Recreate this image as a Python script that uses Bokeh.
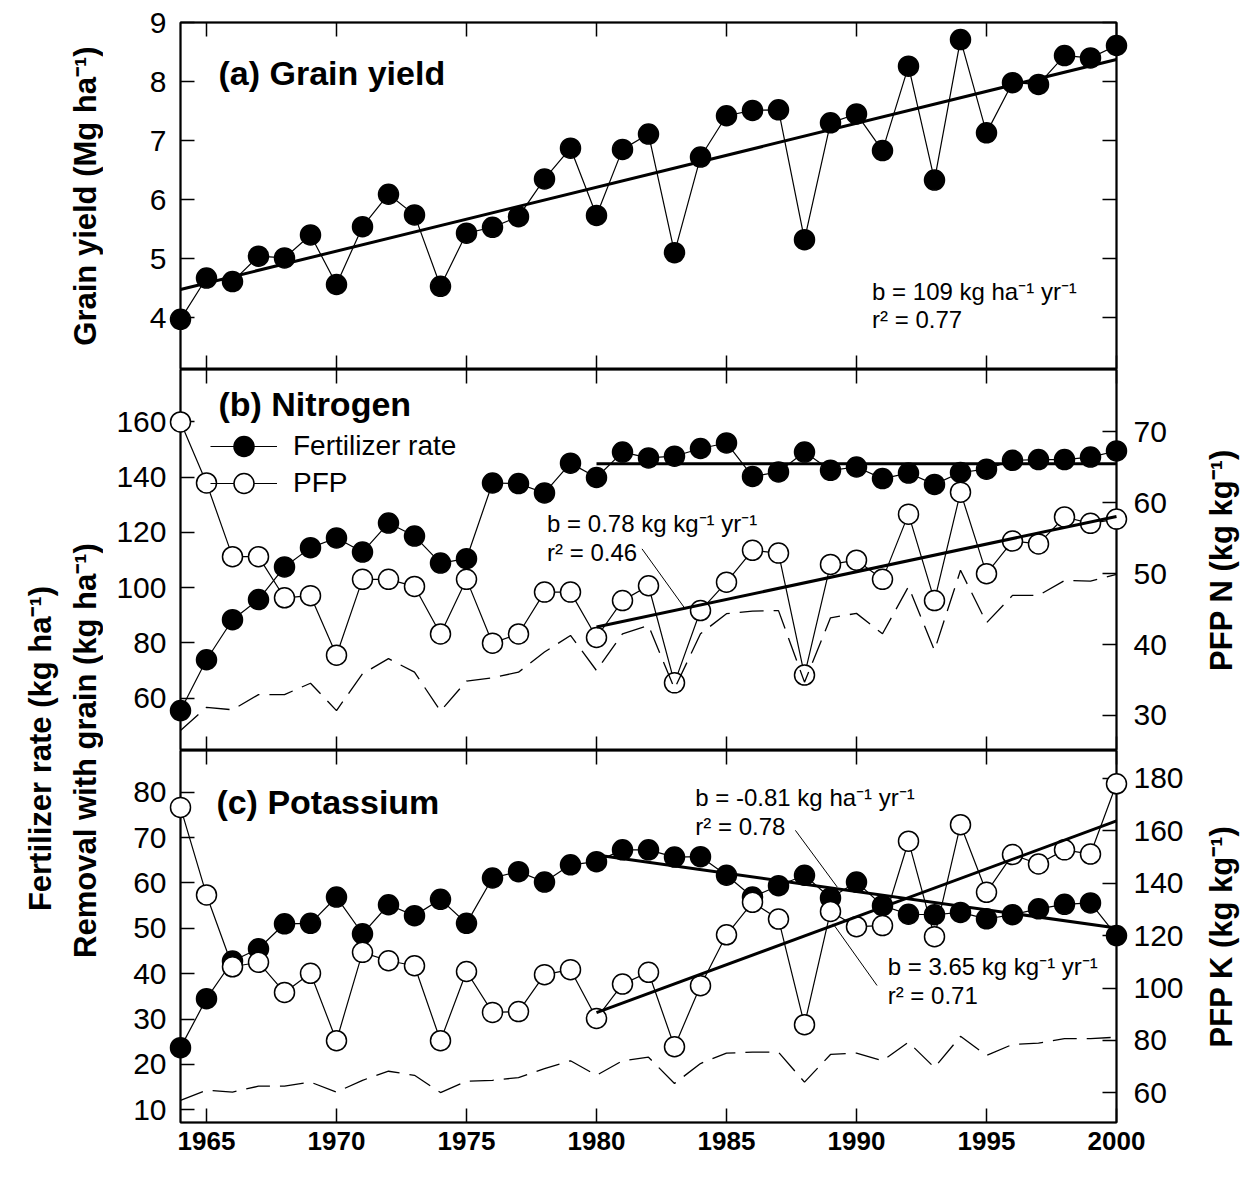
import math
import numpy as np
from bokeh.plotting import figure
from bokeh.models import Range1d, LinearAxis, FixedTicker, Label, Legend, LegendItem
from bokeh.layouts import row, column
from bokeh.embed import file_html
from bokeh.resources import INLINE

# ---------------- data ----------------
years = list(range(1964, 2001))

grain_yield = [3.97, 4.67, 4.61, 5.04, 5.01, 5.40, 4.56, 5.54, 6.09, 5.74, 4.53, 5.43, 5.53,
               5.71, 6.35, 6.87, 5.73, 6.85, 7.11, 5.10, 6.72, 7.42, 7.51, 7.52, 5.32, 7.30,
               7.45, 6.83, 8.26, 6.33, 8.71, 7.13, 7.98, 7.95, 8.44, 8.40, 8.61]

n_rate = [55.5, 73.9, 88.4, 95.7, 107.5, 114.5, 118.0, 112.9, 123.4, 118.7, 108.9, 110.5,
          137.9, 137.7, 134.3, 145.1, 139.9, 149.1, 147.0, 147.6, 150.4, 152.4, 140.3, 141.9,
          149.1, 142.5, 143.7, 139.5, 141.5, 137.4, 141.7, 142.9, 146.1, 146.4, 146.4, 147.3, 149.5]

n_pfp = [71.4, 62.8, 52.4, 52.4, 46.6, 46.9, 38.5, 49.2, 49.2, 48.2, 41.5, 49.2, 40.2, 41.5,
         47.4, 47.4, 41.0, 46.2, 48.3, 34.6, 44.8, 48.8, 53.3, 52.9, 35.7, 51.3, 51.9, 49.2,
         58.4, 46.2, 61.5, 50.0, 54.6, 54.2, 58.0, 57.1, 57.7]

n_removal = [48.3, 56.7, 55.8, 61.3, 61.3, 65.4, 55.5, 68.8, 74.3, 69.4, 55.3, 66.2, 67.4,
             69.4, 76.7, 82.7, 70.0, 83.3, 86.3, 63.4, 83.3, 90.6, 91.5, 91.7, 65.8, 89.1,
             90.7, 83.3, 100.4, 77.3, 106.3, 87.3, 97.2, 97.2, 102.6, 102.4, 104.8]

k_rate = [23.7, 34.5, 42.8, 45.5, 51.0, 51.1, 56.9, 48.8, 55.2, 52.8, 56.4, 51.1, 61.1, 62.5,
          60.2, 64.0, 64.7, 67.3, 67.3, 65.7, 65.8, 61.7, 56.9, 59.4, 61.7, 56.7, 60.2, 55.0,
          53.1, 53.0, 53.5, 52.1, 53.0, 54.3, 55.3, 55.6, 48.4]

k_pfp = [168.9, 135.5, 108.1, 109.8, 98.3, 105.6, 79.9, 113.6, 110.4, 108.5, 79.9, 106.3,
         90.7, 91.0, 105.1, 107.0, 88.4, 101.5, 106.0, 77.6, 100.9, 120.3, 132.7, 126.3,
         86.0, 129.2, 123.4, 123.8, 156.0, 119.6, 162.3, 136.5, 150.9, 147.3, 152.7, 151.1, 177.9]

k_removal = [12.1, 14.3, 13.9, 15.2, 15.2, 16.1, 13.9, 16.5, 18.5, 17.6, 13.8, 16.3, 16.5,
             17.1, 19.1, 20.8, 17.6, 20.8, 21.6, 15.8, 20.2, 22.5, 22.7, 22.7, 16.1, 22.2,
             22.5, 20.8, 24.9, 19.3, 26.2, 22.0, 24.4, 24.7, 25.7, 25.7, 26.0]

year_ticks = [1965, 1970, 1975, 1980, 1985, 1990, 1995, 2000]
yield_ticks = [4, 5, 6, 7, 8, 9]
n_left_ticks = [60, 80, 100, 120, 140, 160]
n_pfp_ticks = [30, 40, 50, 60, 70]
k_left_ticks = [10, 20, 30, 40, 50, 60, 70, 80]
k_pfp_ticks = [60, 80, 100, 120, 140, 160, 180]

trend_start = 1980

# ---------------- helpers ----------------
FONT = "Liberation Sans"
TOP, BOTTOM = 22, 50
HA, HB, HC = 347, 381, 372
TH = TOP + HA + HB + HC + BOTTOM
LEFT_W, RIGHT_W = 103, 42
BL, BR = 77, 82


def trend(x, y, start):
    xs = np.array([a for a in x if a >= start], float)
    ys = np.array([b for a, b in zip(x, y) if a >= start], float)
    slope, icpt = np.polyfit(xs, ys, 1)
    return [float(xs[0]), float(xs[-1])], [float(icpt + slope * xs[0]), float(icpt + slope * xs[-1])]


def mean_line(x, y, start):
    ys = [b for a, b in zip(x, y) if a >= start]
    xs = [a for a in x if a >= start]
    m = float(np.mean(ys))
    return [xs[0], xs[-1]], [m, m]


def make_panel(frame_h, yr, top=0, bottom=0):
    p = figure(frame_width=936, frame_height=frame_h,
               x_range=Range1d(1964, 2000), y_range=Range1d(*yr),
               x_axis_type=None, y_axis_type=None,
               toolbar_location=None, output_backend="svg",
               min_border_left=BL, min_border_right=BR,
               min_border_top=top, min_border_bottom=bottom)
    p.outline_line_color = "black"
    p.outline_line_width = 2
    p.background_fill_color = "white"
    p.border_fill_color = "white"
    return p


def add_axis(p, side, ticks, labels=False, rname=None, size="30px", bold=False, standoff=14):
    kw = {}
    if rname:
        kw["y_range_name"] = rname
    ax = LinearAxis(ticker=FixedTicker(ticks=ticks), **kw)
    ax.major_tick_in = 14
    ax.major_tick_out = 0
    ax.minor_tick_in = 0
    ax.minor_tick_out = 0
    ax.major_tick_line_width = 1.5
    ax.axis_line_width = 1.5
    ax.major_tick_line_color = "black"
    ax.axis_line_color = "black"
    if labels:
        ax.major_label_text_font = FONT
        ax.major_label_text_font_size = size
        ax.major_label_text_color = "black"
        ax.major_label_standoff = standoff
        if bold:
            ax.major_label_text_font_style = "bold"
    else:
        ax.major_label_text_color = None
        ax.major_label_text_font_size = "0px"
        ax.major_label_standoff = 0
    p.add_layout(ax, side)
    return ax


def label(p, x, y, s, size="24px", bold=False, rname="default", align="left",
          baseline="alphabetic", angle=0.0):
    lb = Label(x=x, y=y, text=s, text_font=FONT, text_font_size=size,
               text_font_style="bold" if bold else "normal", text_color="black",
               text_align=align, text_baseline=baseline, angle=angle, y_range_name=rname)
    p.add_layout(lb)
    return lb


MS = 20


def series(p, y, filled, rname="default"):
    ln = p.line(years, y, line_color="black", line_width=1.2, y_range_name=rname, level="overlay")
    sc = p.scatter(years, y, marker="circle", size=MS, line_color="black", line_width=1.5,
                   fill_color="black" if filled else "white", y_range_name=rname, level="overlay")
    return ln, sc


def dashed(p, y, rname="default"):
    p.line(years, y, line_color="black", line_width=1.3, line_dash="24 10",
           y_range_name=rname, level="overlay")


def fitline(p, xy, rname="default"):
    p.line(xy[0], xy[1], line_color="black", line_width=3, y_range_name=rname, level="overlay")


def leader(p, xs, ys, rname="default"):
    p.line(xs, ys, line_color="black", line_width=1, y_range_name=rname, level="overlay")


def legend_box(p, name, rends, bottom):
    lg = Legend(items=[LegendItem(label=name, renderers=rends)],
                location=(30, bottom), glyph_width=67, glyph_height=50, spacing=0,
                padding=0, margin=0, label_standoff=16,
                label_text_font=FONT, label_text_font_size="28px", label_text_color="black",
                border_line_alpha=0, background_fill_alpha=0)
    p.add_layout(lg)


# ---------------- panel (a) ----------------
fa = make_panel(HA, (3.12, 9.0), top=TOP)
add_axis(fa, "left", yield_ticks, labels=True)
add_axis(fa, "right", yield_ticks)
add_axis(fa, "above", year_ticks)
add_axis(fa, "below", year_ticks)
series(fa, grain_yield, True)
fitline(fa, trend(years, grain_yield, 1964))
label(fa, 1965.46, 8.14, "(a) Grain yield", size="34px", bold=True)
label(fa, 1990.6, 4.435, "b = 109 kg ha\u207b\u00b9 yr\u207b\u00b9")
label(fa, 1990.6, 3.96, "r\u00b2 = 0.77")

# ---------------- panel (b) ----------------
fb = make_panel(HB, (41.05, 179.0))
fb.extra_y_ranges = {"pfp": Range1d(25.06, 78.8)}
add_axis(fb, "left", n_left_ticks, labels=True)
add_axis(fb, "right", n_pfp_ticks, labels=True, rname="pfp", standoff=17)
add_axis(fb, "above", year_ticks)
add_axis(fb, "below", year_ticks)
nl, ns = series(fb, n_rate, True)
pl, ps = series(fb, n_pfp, False, rname="pfp")
fitline(fb, mean_line(years, n_rate, trend_start))
fitline(fb, trend(years, n_pfp, trend_start), rname="pfp")
dashed(fb, n_removal)
leader(fb, [1981.75, 1983.42], [53.5, 45.0], rname="pfp")
label(fb, 1965.46, 166.6, "(b) Nitrogen", size="34px", bold=True)
label(fb, 1978.1, 123.4, "b = 0.78 kg kg\u207b\u00b9 yr\u207b\u00b9")
label(fb, 1978.1, 112.8, "r\u00b2 = 0.46")
legend_box(fb, "Fertilizer rate", [nl, ns], 279)
legend_box(fb, "PFP", [pl, ps], 242)

# ---------------- panel (c) ----------------
fc = make_panel(HC, (7.2, 89.2), bottom=BOTTOM)
fc.extra_y_ranges = {"pfp": Range1d(48.7, 190.6)}
add_axis(fc, "left", k_left_ticks, labels=True)
add_axis(fc, "right", k_pfp_ticks, labels=True, rname="pfp", standoff=17)
add_axis(fc, "above", year_ticks)
add_axis(fc, "below", year_ticks, labels=True, size="26px", bold=True, standoff=9)
series(fc, k_rate, True)
series(fc, k_pfp, False, rname="pfp")
fitline(fc, trend(years, k_rate, trend_start))
fitline(fc, trend(years, k_pfp, trend_start), rname="pfp")
dashed(fc, k_removal)
leader(fc, [1987.65, 1989.26], [71.6, 59.1])
leader(fc, [1990.79, 1989.1], [37.4, 51.0])
label(fc, 1965.38, 77.8, "(c) Potassium", size="34px", bold=True)
label(fc, 1983.8, 78.9, "b = -0.81 kg ha\u207b\u00b9 yr\u207b\u00b9")
label(fc, 1983.8, 72.5, "r\u00b2 = 0.78")
label(fc, 1991.2, 41.6, "b = 3.65 kg kg\u207b\u00b9 yr\u207b\u00b9")
label(fc, 1991.2, 35.2, "r\u00b2 = 0.71")


# ---------------- side titles ----------------
def side_fig(w):
    f = figure(width=w, height=TH, x_range=Range1d(0, w), y_range=Range1d(0, TH),
               x_axis_type=None, y_axis_type=None, toolbar_location=None,
               output_backend="svg", min_border=0)
    f.outline_line_color = None
    f.background_fill_color = "white"
    f.border_fill_color = "white"
    return f


tl = side_fig(LEFT_W)
label(tl, 85, TH - 195.5, "Grain yield (Mg ha\u207b\u00b9)", size="31px", bold=True,
      align="center", baseline="middle", angle=math.pi / 2)
label(tl, 40, TH - 748, "Fertilizer rate (kg ha\u207b\u00b9)", size="31px", bold=True,
      align="center", baseline="middle", angle=math.pi / 2)
label(tl, 85, TH - 750, "Removal with grain (kg ha\u207b\u00b9)", size="31px", bold=True,
      align="center", baseline="middle", angle=math.pi / 2)

tr = side_fig(RIGHT_W)
label(tr, 23, TH - 559.5, "PFP N (kg kg\u207b\u00b9)", size="31px", bold=True,
      align="center", baseline="middle", angle=math.pi / 2)
label(tr, 23, TH - 936, "PFP K (kg kg\u207b\u00b9)", size="31px", bold=True,
      align="center", baseline="middle", angle=math.pi / 2)

layout = row(tl, column(fa, fb, fc), tr)

with open("out.html", "w") as f:
    f.write(file_html(layout, INLINE))
